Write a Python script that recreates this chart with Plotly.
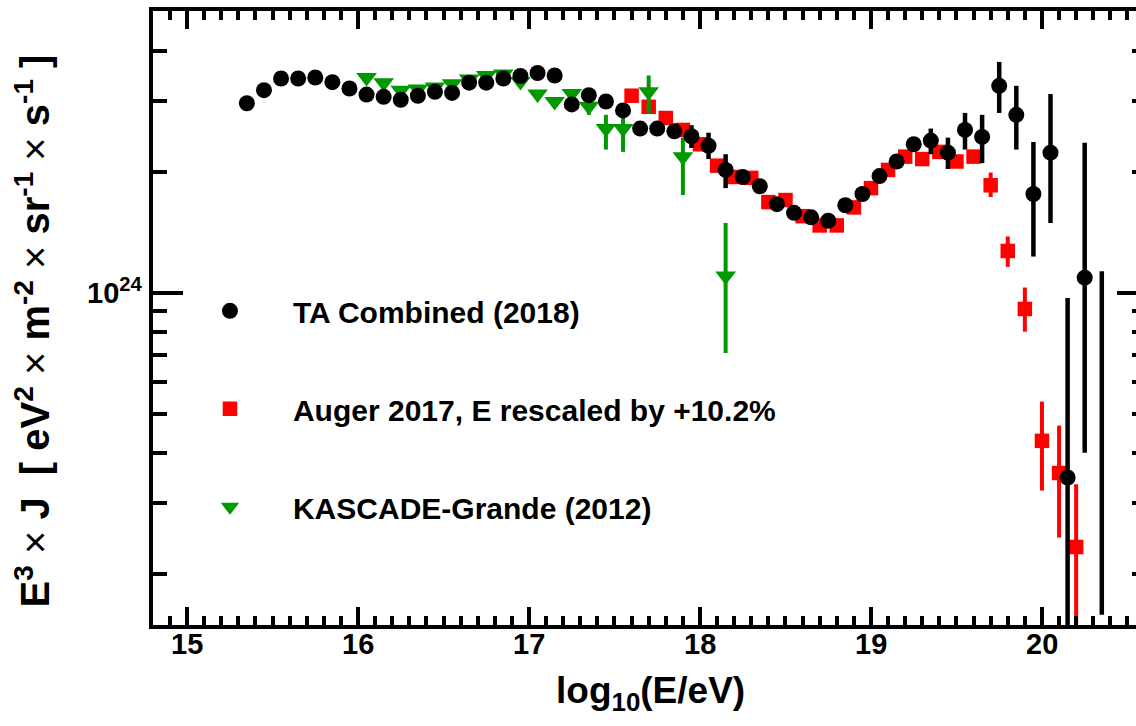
import plotly.graph_objects as go

# Energy spectra, E^3 x J in units of 1e24 eV^2 m^-2 sr^-1 s^-1
ta_x = [15.35, 15.45, 15.55, 15.65, 15.75, 15.85, 15.95, 16.05, 16.15, 16.25,
        16.35, 16.45, 16.55, 16.65, 16.75, 16.85, 16.95, 17.05, 17.15, 17.25,
        17.35, 17.45, 17.55, 17.65, 17.75, 17.85, 17.95, 18.05, 18.15, 18.25,
        18.35, 18.45, 18.55, 18.65, 18.75, 18.85, 18.95, 19.05, 19.15, 19.25,
        19.35, 19.45, 19.55, 19.65, 19.75, 19.85, 19.95, 20.05, 20.15, 20.25]
ta_y = [2.96, 3.19, 3.41, 3.41, 3.43, 3.34, 3.22, 3.11, 3.07, 3.02,
        3.09, 3.16, 3.14, 3.33, 3.33, 3.41, 3.46, 3.52, 3.47, 2.94,
        3.10, 2.99, 2.84, 2.56, 2.56, 2.52, 2.45, 2.32, 2.02, 1.94,
        1.84, 1.66, 1.58, 1.54, 1.51, 1.65, 1.76, 1.95, 2.12, 2.34,
        2.39, 2.23, 2.54, 2.44, 3.27, 2.77, 1.76, 2.23, 0.347, 1.09]
ta_hi = [None] * 26 + [2.61, 2.50, 2.21] + [None] * 11 + \
        [2.56, 2.43, 2.80, 2.77, 3.75, 3.27, 2.37, 3.12, 0.97, 2.36]
ta_lo = [None] * 26 + [2.29, 2.15, 1.82] + [None] * 11 + \
        [2.21, 2.03, 2.27, 2.10, 2.80, 2.27, 1.23, 1.49, 0.10, 0.40]
# TA bin shown only as an interval
ta_open_x = [20.35]
ta_open_hi = [1.13]
ta_open_lo = [0.158]

auger_x = [17.6, 17.7, 17.8, 17.9, 18.0, 18.1, 18.2, 18.3, 18.4, 18.5,
           18.6, 18.7, 18.8, 18.9, 19.0, 19.1, 19.2, 19.3, 19.4, 19.5,
           19.6, 19.7, 19.8, 19.9, 20.0, 20.1, 20.2]
auger_y = [3.09, 2.90, 2.72, 2.54, 2.34, 2.07, 1.94, 1.93, 1.68, 1.70,
           1.55, 1.47, 1.47, 1.63, 1.82, 2.02, 2.18, 2.15, 2.24, 2.12,
           2.18, 1.85, 1.27, 0.911, 0.428, 0.356, 0.233]
auger_hi = [None] * 21 + [1.99, 1.38, 1.03, 0.536, 0.467, 0.334]
auger_lo = [None] * 21 + [1.73, 1.16, 0.80, 0.322, 0.246, 0.10]

kg_x = [16.05, 16.15, 16.25, 16.35, 16.45, 16.55, 16.65, 16.75, 16.85, 16.95,
        17.05, 17.15, 17.25, 17.35, 17.45, 17.55, 17.70, 17.90, 18.15]
kg_y = [3.43, 3.33, 3.19, 3.21, 3.25, 3.31, 3.40, 3.47, 3.50, 3.35,
        3.12, 2.99, 3.13, 2.91, 2.56, 2.56, 3.16, 2.18, 1.10]
kg_hi = [None] * 13 + [3.02, 2.77, 2.77, 3.47, 2.43, 1.49]
kg_lo = [None] * 13 + [2.77, 2.27, 2.24, 2.80, 1.75, 0.708]

x_ticks = [15, 16, 17, 18, 19, 20]
y_major_exp = 24
UNIT = 1e24
y_minor = [2e23, 3e23, 4e23, 5e23, 6e23, 7e23, 8e23, 9e23, 2e24, 3e24, 4e24]

GREEN = "rgb(0,153,0)"
FONT = "Liberation Sans, Arial, sans-serif"
TIMES = "<span style='font-weight:normal'>×</span>"


def scaled(vals):
    return [v * UNIT for v in vals]


def errors(y, hi, lo):
    up = [(h - v) * UNIT if h is not None else 0 for v, h in zip(y, hi)]
    dn = [(v - l) * UNIT if l is not None else 0 for v, l in zip(y, lo)]
    return up, dn


def series(x, y, hi, lo, name, symbol, size, color, rank, ethick):
    up, dn = errors(y, hi, lo)
    return go.Scatter(
        x=x, y=scaled(y), mode="markers", name=name,
        legendgroup=name, legendrank=rank,
        marker=dict(symbol=symbol, size=size, color=color, line=dict(width=0)),
        error_y=dict(type="data", symmetric=False, array=up, arrayminus=dn,
                     color=color, thickness=ethick, width=0),
    )


fig = go.Figure()
fig.add_trace(series(auger_x, auger_y, auger_hi, auger_lo,
                     "Auger 2017, E rescaled by +10.2%", "square", 14.5,
                     "#ff0000", 2, 4))
fig.add_trace(series(kg_x, kg_y, kg_hi, kg_lo, "KASCADE-Grande (2012)",
                     "triangle-down", 18, GREEN, 3, 4))
for xv, hv, lv in zip(ta_open_x, ta_open_hi, ta_open_lo):
    fig.add_trace(go.Scatter(x=[xv, xv], y=[hv * UNIT, lv * UNIT], mode="lines",
                             line=dict(color="black", width=4.5),
                             showlegend=False, hoverinfo="skip"))
fig.add_trace(series(ta_x, ta_y, ta_hi, ta_lo, "TA Combined (2018)",
                     "circle", 16, "black", 1, 4.5))
# carrier for the right-hand tick axis
fig.add_trace(go.Scatter(x=[], y=[], yaxis="y2", showlegend=False))

yr = [23.1734, 24.7007]
y_major = 10.0 ** y_major_exp
tick_font = dict(size=29, family=FONT, weight="bold", color="black")

# bold tick labels and axis titles as annotations
notes = []
for v in x_ticks:
    notes.append(dict(text=f"<b>{v}</b>", x=v, xref="x", y=0, yref="paper",
                      xanchor="center", yanchor="middle", yshift=-19,
                      showarrow=False, font=tick_font))
notes.append(dict(text=f"<b>10<sup>{y_major_exp}</sup></b>", x=0, xref="paper",
                  y=y_major_exp, yref="y", xanchor="right", yanchor="middle",
                  xshift=-8, yshift=2, showarrow=False, font=tick_font))
notes.append(dict(text="<b>log<sub>10</sub>(E/eV)</b>", x=0.5056, xref="paper",
                  y=0, yref="paper", xanchor="center", yanchor="middle",
                  yshift=-68, showarrow=False,
                  font=dict(size=37, family=FONT, weight="bold")))
notes.append(dict(
    text=f"E<sup>3</sup> {TIMES} J  [ eV<sup>2</sup> {TIMES} "
         f"m<sup>-2</sup> {TIMES} sr<sup>-1</sup> {TIMES} s<sup>-1</sup> ]",
    textangle=-90, xref="paper", yref="paper",
    x=-0.1225, y=0.479, xanchor="center", yanchor="middle",
    showarrow=False, font=dict(size=40, weight="bold", family=FONT)))

fig.update_layout(
    width=1136, height=726,
    margin=dict(l=153, r=0, t=11, b=101),
    paper_bgcolor="white", plot_bgcolor="white",
    font=dict(family=FONT, color="black"),
    showlegend=True,
    legend=dict(x=0.0142, y=0.554, xanchor="left", yanchor="top",
                font=dict(size=30, weight="bold", family=FONT),
                itemwidth=116, tracegroupgap=56, traceorder="grouped",
                itemsizing="trace",
                bgcolor="rgba(0,0,0,0)", borderwidth=0),
    xaxis=dict(
        range=[14.801, 20.55], showgrid=False, zeroline=False,
        showline=True, linewidth=4, linecolor="black", mirror="ticks",
        ticks="inside", ticklen=18, tickwidth=3.5, tickcolor="black",
        tickvals=x_ticks, showticklabels=False,
        minor=dict(tick0=15, dtick=0.1, ticks="inside", ticklen=9,
                   tickwidth=3.5, tickcolor="black", showgrid=False),
    ),
    yaxis=dict(
        type="log", range=yr, showgrid=False, zeroline=False,
        showline=True, linewidth=4, linecolor="black", mirror=False,
        ticks="inside", ticklen=30, tickwidth=3.5, tickcolor="black",
        tickvals=[y_major], showticklabels=False,
        minor=dict(tickvals=y_minor, ticks="inside", ticklen=14,
                   tickwidth=3.5, tickcolor="black", showgrid=False),
    ),
    yaxis2=dict(
        type="log", range=yr, overlaying="y", side="right", anchor="x",
        showgrid=False, zeroline=False, showline=False,
        ticks="inside", ticklen=19, tickwidth=3.5, tickcolor="black",
        tickvals=[y_major], showticklabels=False,
        minor=dict(tickvals=y_minor, ticks="inside", ticklen=4,
                   tickwidth=3.5, tickcolor="black", showgrid=False),
    ),
    annotations=notes,
)

fig.write_html("out.html")
